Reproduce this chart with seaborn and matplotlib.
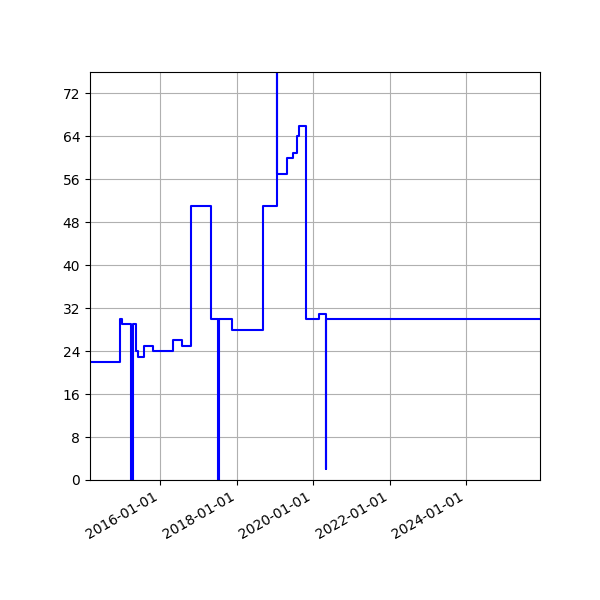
import pandas as pd
import matplotlib
matplotlib.use("Agg")
import matplotlib.pyplot as plt
import matplotlib.dates as mdates
import seaborn as sns

# change points of the stepped series (value holds until next date)
dates = [
    "2014-03-03", "2014-12-15", "2015-01-01", "2015-04-03", "2015-04-13",
    "2015-05-14", "2015-06-08", "2015-08-04", "2015-10-28", "2016-05-01",
    "2016-07-26", "2016-10-23", "2017-04-28", "2017-07-08", "2017-07-18",
    "2017-11-20", "2018-09-06", "2019-01-19", "2019-01-25", "2019-04-24",
    "2019-06-26", "2019-07-28", "2019-08-22", "2019-10-30", "2020-03-01",
    "2020-05-01", "2020-05-07", "2025-12-08",
]
values = [
    22, 30, 29, 0, 29,
    24, 23, 25, 24, 26,
    25, 51, 30, 0, 30,
    28, 51, 120, 57, 60,
    61, 64, 66, 30, 31,
    2, 30, 30,
]

y_ticks = list(range(0, 73, 8))


def main():
    df = pd.DataFrame({"date": pd.to_datetime(dates), "value": values})

    fig, ax = plt.subplots(figsize=(6, 6), dpi=100)
    sns.lineplot(data=df, x="date", y="value", ax=ax, color="blue",
                 estimator=None, drawstyle="steps-post", linewidth=1.5)

    ax.set_xlim(df["date"].min(), df["date"].max())
    ax.set_ylim(0, 76)
    ax.set_yticks(y_ticks)
    ax.xaxis.set_major_locator(mdates.YearLocator(2))
    ax.xaxis.set_major_formatter(mdates.DateFormatter("%Y-%m-%d"))
    ax.set_xlabel("")
    ax.set_ylabel("")
    ax.grid(True)

    fig.autofmt_xdate()
    fig.subplots_adjust(left=0.15, right=0.9, top=0.88, bottom=0.2)
    fig.savefig("out.png")


if __name__ == "__main__":
    main()
